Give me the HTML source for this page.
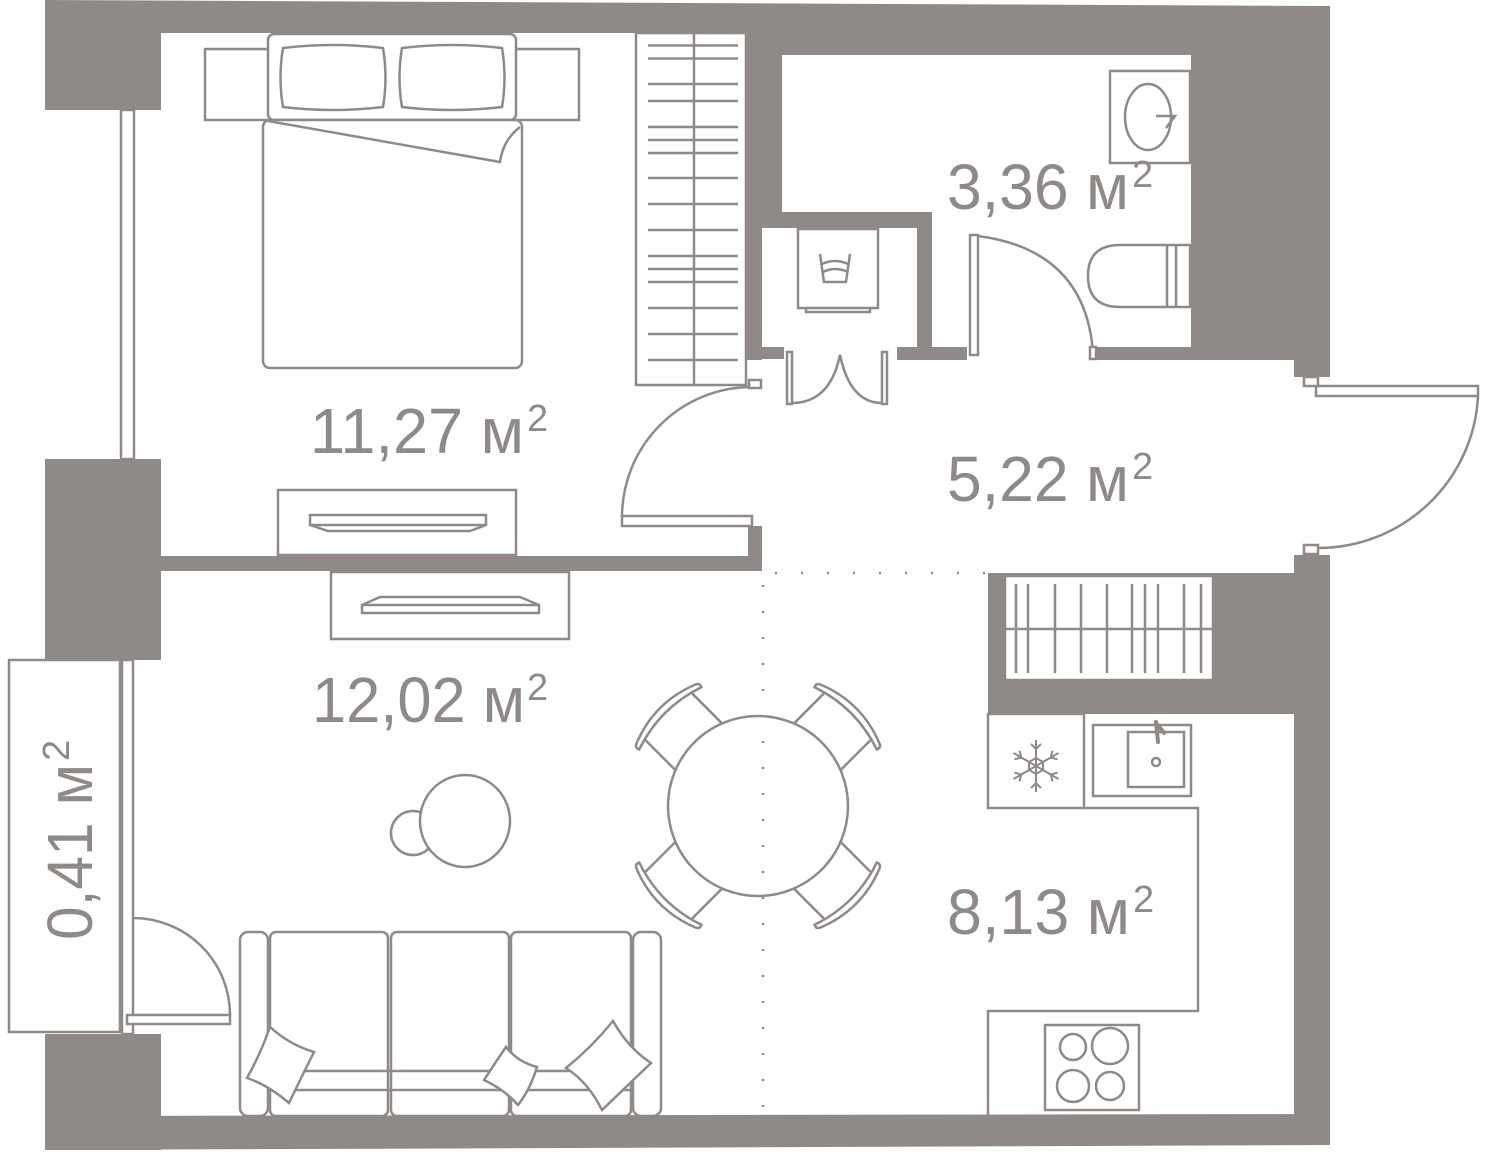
<!DOCTYPE html>
<html><head><meta charset="utf-8"><style>
html,body{margin:0;padding:0;background:#fff;}
svg{display:block;}
text{font-family:"Liberation Sans Narrow","Liberation Sans",sans-serif;fill:#8f8a87;}
</style></head><body>
<svg width="1500" height="1155" viewBox="0 0 1500 1155" xmlns="http://www.w3.org/2000/svg">
<g fill="#8f8a87" stroke="none">
  <polygon points="45,0 1330,6 1330,55 782,55 782,33 161,33 161,110 45,110"/>
  <rect x="1191" y="40" width="139" height="307"/>
  <rect x="1294" y="340" width="36" height="37"/>
  <rect x="746" y="33" width="36" height="195"/>
  <rect x="746" y="212" width="186" height="16"/>
  <rect x="746" y="212" width="16" height="148"/>
  <rect x="917" y="212" width="15" height="148"/>
  <rect x="762" y="347" width="22" height="12"/>
  <rect x="897" y="347" width="70" height="13"/>
  <rect x="1095" y="347" width="199" height="13"/>
  <rect x="45" y="459" width="116" height="201"/>
  <rect x="45" y="1034" width="116" height="116"/>
  <rect x="161" y="556" width="601" height="15"/>
  <rect x="748" y="526" width="14" height="45"/>
  <rect x="988" y="573" width="306" height="141"/>
  <rect x="1294" y="555" width="36" height="590"/>
  <polygon points="45,1116 1330,1114 1330,1145 45,1150"/>
</g>
<g fill="none" stroke="#8f8a87" stroke-width="2.5">
  <rect x="121" y="110" width="13" height="349" fill="#fff"/>
  <rect x="122" y="660" width="11" height="374" fill="#fff"/>
  <rect x="205" y="49" width="374" height="71" fill="#fff"/>
  <rect x="268" y="34" width="248" height="86" rx="6" fill="#fff"/>
  <path d="M283,48 Q333,42 383,48 Q388,78 383,107 Q333,113 283,107 Q278,78 283,48Z"/>
  <path d="M402,48 Q452,42 502,48 Q507,78 502,107 Q452,113 402,107 Q397,78 402,48Z"/>
  <rect x="263" y="120" width="259" height="248" rx="7" fill="#fff"/>
  <path d="M268,121 L500,162 Q503,140 520,127"/>
  <rect x="636" y="33" width="110" height="352" fill="#fff"/>
  <line x1="694" y1="33" x2="694" y2="385"/>
  <path d="M648,45.5H738M648,58.5H738M648,84H738M648,101H738M648,127H738M648,140H738M648,153H738M648,178H738M648,204H738M648,230H738M648,256H738M648,269H738M648,282H738M648,308H738M648,334H738M648,360H738"/>
  <rect x="278" y="490" width="238" height="65"/>
  <path d="M310,515H486V525L470,531H328L310,525Z"/>
  <line x1="310" y1="525" x2="486" y2="525"/>
  <rect x="622" y="516" width="130" height="10" fill="#fff"/>
  <path d="M622,517 A130,130 0 0 1 752,387"/>
  <rect x="749" y="380" width="12" height="8" fill="#fff"/>
  <rect x="1110" y="71" width="80" height="92" fill="#fff"/>
  <ellipse cx="1148" cy="117" rx="23" ry="33"/>
  <path d="M1156,116H1175L1166,128"/>
  <path d="M1088,276 Q1088,245 1120,245 H1190 V307 H1120 Q1088,307 1088,276Z" fill="#fff"/>
  <line x1="1167" y1="245" x2="1167" y2="307"/>
  <line x1="1176" y1="245" x2="1176" y2="307"/>
  <rect x="970" y="235" width="8" height="120" fill="#fff"/>
  <path d="M978,236 Q1085,250 1093,352"/>
  <rect x="1090" y="347" width="6" height="12" fill="#fff"/>
  <rect x="798" y="229" width="80" height="79" fill="#fff"/>
  <path d="M806,308 V312 H870 V308"/>
  <path d="M820,254 L824,282 H846 L850,254 M822,264 Q835,258 848,264 M823,272 Q835,266 848,272"/>
  <rect x="787" y="352" width="5" height="52" fill="#fff"/>
  <rect x="882" y="352" width="5" height="52" fill="#fff"/>
  <path d="M792,403 Q830,403 840,355 Q850,403 882,403"/>
  <rect x="1316" y="386" width="162" height="10" fill="#fff"/>
  <path d="M1478,396 A160,160 0 0 1 1318,548"/>
  <rect x="1304" y="377" width="14" height="9" fill="#fff"/>
  <rect x="1304" y="545" width="14" height="9" fill="#fff"/>
  <rect x="1005" y="576" width="208" height="104" fill="#fff"/>
  <line x1="1005" y1="629" x2="1213" y2="629"/>
  <path d="M1016,584V673M1028,584V673M1055,584V673M1081,584V673M1107,584V673M1132,584V673M1145,584V673M1158,584V673M1184,584V673M1201,584V673"/>
  <rect x="988" y="714" width="96" height="94"/>
  <rect x="1093" y="725" width="98" height="71"/>
  <rect x="1128" y="732" width="56" height="55"/>
  <path d="M1156,722 L1158,742 M1158,725 L1164,733" stroke-width="4" stroke-linecap="round"/>
  <circle cx="1156" cy="762" r="4"/>
  <path d="M1084,808 H1198 V1011 H988 V1117"/>
  <rect x="1045" y="1025" width="94" height="85"/>
  <circle cx="1073" cy="1047" r="13"/>
  <circle cx="1110" cy="1046" r="18"/>
  <circle cx="1073" cy="1086" r="16"/>
  <circle cx="1110" cy="1086" r="14"/>
  <g transform="translate(1036,766)" stroke-width="2">
    <path d="M0,-26V26M-5,-22L0,-17L5,-22M-5,22L0,17L5,22"/>
    <g transform="rotate(60)"><path d="M0,-26V26M-5,-22L0,-17L5,-22M-5,22L0,17L5,22"/></g>
    <g transform="rotate(-60)"><path d="M0,-26V26M-5,-22L0,-17L5,-22M-5,22L0,17L5,22"/></g>
    <path d="M-7,-4 L0,-8 L7,-4 L7,4 L0,8 L-7,4Z"/>
  </g>
  <rect x="331" y="572" width="238" height="67"/>
  <path d="M362,605H539V613H362Z M362,605 L380,597H520L539,605"/>
  <rect x="9" y="660" width="111" height="372"/>
  <rect x="127" y="1015" width="103" height="9" fill="#fff"/>
  <path d="M133,918 A97,97 0 0 1 230,1015"/>
  <circle cx="413" cy="833" r="22" fill="#fff"/>
  <ellipse cx="465" cy="821" rx="45" ry="46" fill="#fff"/>
  <g transform="translate(758,806)">
    <g transform="rotate(-45)"><path d="M-33,-82 V-126 M33,-82 V-126"/><path d="M-42,-130 Q0,-147 42,-130 Q46,-128 44,-124 Q0,-139 -44,-124 Q-46,-128 -42,-130Z" fill="#fff"/></g>
    <g transform="rotate(45)"><path d="M-33,-82 V-126 M33,-82 V-126"/><path d="M-42,-130 Q0,-147 42,-130 Q46,-128 44,-124 Q0,-139 -44,-124 Q-46,-128 -42,-130Z" fill="#fff"/></g>
    <g transform="rotate(135)"><path d="M-33,-82 V-126 M33,-82 V-126"/><path d="M-42,-130 Q0,-147 42,-130 Q46,-128 44,-124 Q0,-139 -44,-124 Q-46,-128 -42,-130Z" fill="#fff"/></g>
    <g transform="rotate(-135)"><path d="M-33,-82 V-126 M33,-82 V-126"/><path d="M-42,-130 Q0,-147 42,-130 Q46,-128 44,-124 Q0,-139 -44,-124 Q-46,-128 -42,-130Z" fill="#fff"/></g>
    <ellipse cx="0" cy="0" rx="90" ry="90" fill="#fff"/>
  </g>
  <rect x="240" y="932" width="28" height="184" rx="8"/>
  <rect x="633" y="932" width="28" height="184" rx="8"/>
  <rect x="270" y="932" width="118" height="184" rx="6"/>
  <rect x="391" y="932" width="118" height="184" rx="6"/>
  <rect x="511" y="932" width="120" height="184" rx="6"/>
  <path d="M270,1071H631M270,1090H631"/>
  <g fill="#fff">
    <path d="M270,1027 Q290,1045 314,1052 Q300,1080 289,1103 Q268,1085 247,1078 Q260,1055 270,1027Z"/>
    <path d="M506,1047 Q518,1062 537,1067 Q530,1090 518,1105 Q505,1090 484,1080 Q495,1063 506,1047Z"/>
    <path d="M613,1021 Q628,1048 651,1063 Q628,1085 602,1110 Q588,1082 566,1068 Q592,1047 613,1021Z"/>
  </g>
</g>
<g stroke="#8f8a87" stroke-width="2.5" stroke-dasharray="2,24" fill="none">
  <line x1="763" y1="585" x2="763" y2="1110"/>
  <line x1="775" y1="573" x2="990" y2="573"/>
</g>
<g font-size="64">
  <text x="310" y="453" textLength="214" lengthAdjust="spacingAndGlyphs">11,27 м</text>
  <text x="527" y="431" font-size="38">2</text>
  <text x="947" y="209" textLength="182" lengthAdjust="spacingAndGlyphs">3,36 м</text>
  <text x="1132" y="187" font-size="38">2</text>
  <text x="947" y="501" textLength="182" lengthAdjust="spacingAndGlyphs">5,22 м</text>
  <text x="1132" y="479" font-size="38">2</text>
  <text x="312" y="722" textLength="213" lengthAdjust="spacingAndGlyphs">12,02 м</text>
  <text x="527" y="700" font-size="38">2</text>
  <text x="947" y="934" textLength="183" lengthAdjust="spacingAndGlyphs">8,13 м</text>
  <text x="1133" y="912" font-size="38">2</text>
  <g transform="translate(92,940) rotate(-90)">
    <text x="0" y="0" textLength="176" lengthAdjust="spacingAndGlyphs">0,41 м</text>
    <text x="179" y="-23" font-size="38">2</text>
  </g>
</g>
</svg>
</body></html>
